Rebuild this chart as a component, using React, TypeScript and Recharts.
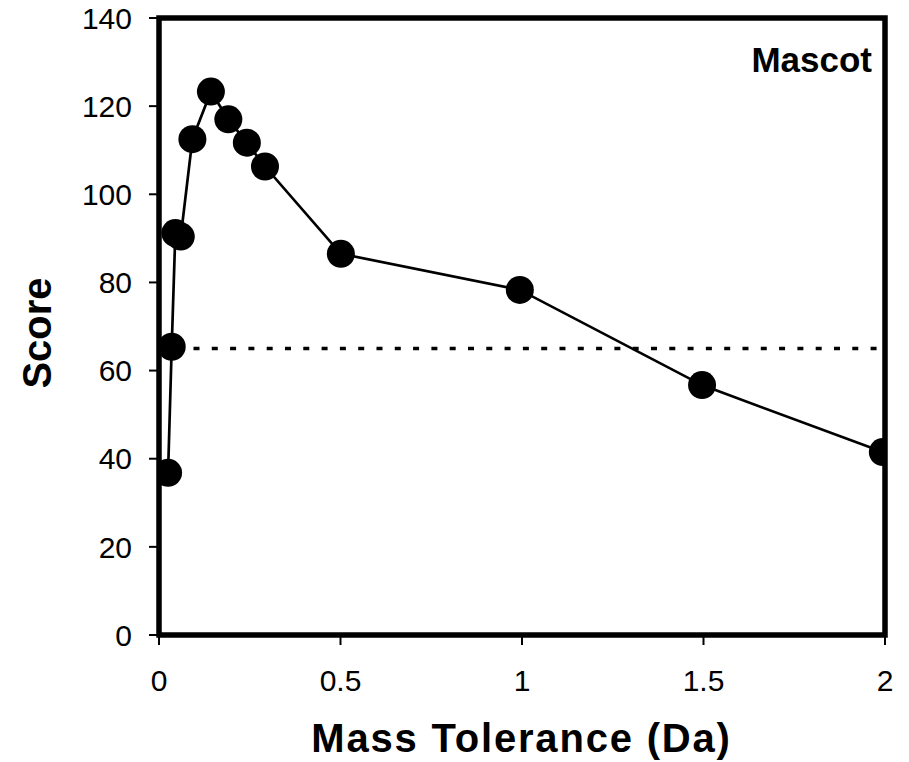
import React from "react";
import {
  ComposedChart,
  Line,
  XAxis,
  YAxis,
  ReferenceArea,
  ReferenceLine,
  Label,
} from "recharts";

const tolerance = [0.025, 0.035, 0.045, 0.06, 0.092, 0.143, 0.191, 0.242, 0.292, 0.501, 0.994, 1.496, 1.994];
const score = [36.8, 65.4, 91.2, 90.4, 112.5, 123.3, 117.0, 111.7, 106.3, 86.5, 78.3, 56.7, 41.5];
const xTicks = [0, 0.5, 1, 1.5, 2];
const yTicks = [0, 20, 40, 60, 80, 100, 120, 140];
const thresholdScore = 65;
const thresholdRange = [0.095, 2];
const xTitle = "Mass Tolerance (Da)";
const yTitle = "Score";
const panelTitle = "Mascot";

const data = tolerance.map((t, i) => ({ tol: t, score: score[i] }));

const FONT = "'Liberation Sans', Arial, sans-serif";

const renderTitles = () => (
  <g>
    <text
      x={521.5}
      y={751.7}
      textAnchor="middle"
      fontFamily={FONT}
      fontWeight="bold"
      fontSize={40}
      letterSpacing={1.8}
      fill="#000"
    >
      {xTitle}
    </text>
    <text
      x={36.7}
      y={333}
      textAnchor="middle"
      dominantBaseline="central"
      transform="rotate(-90 36.7 333)"
      fontFamily={FONT}
      fontWeight="bold"
      fontSize={40}
      fill="#000"
    >
      {yTitle}
    </text>
    <text
      x={872}
      y={72}
      textAnchor="end"
      fontFamily={FONT}
      fontWeight="bold"
      fontSize={35}
      fill="#000"
    >
      {panelTitle}
    </text>
  </g>
);

export default function App() {
  return (
    <div style={{ position: "absolute", left: 0, top: 0, background: "#fff" }}>
      <ComposedChart
        width={909}
        height={762}
        data={data}
        margin={{ top: 18, right: 24, bottom: 0, left: 0 }}
      >
        <XAxis
          dataKey="tol"
          type="number"
          domain={[0, 2]}
          ticks={xTicks}
          allowDataOverflow
          height={127}
          axisLine={false}
          tickLine={{ stroke: "#000", strokeWidth: 2 }}
          tickSize={10}
          tickMargin={25}
          tick={{ fill: "#000", fontSize: 30, fontFamily: FONT }}
        >
          <Label content={renderTitles} />
        </XAxis>
        <YAxis
          type="number"
          domain={[0, 140]}
          ticks={yTicks}
          width={159}
          axisLine={false}
          tickLine={{ stroke: "#000", strokeWidth: 2 }}
          tickSize={10}
          tickMargin={17}
          tick={{ fill: "#000", fontSize: 30, fontFamily: FONT }}
        />
        <ReferenceArea
          x1={0}
          x2={2}
          y1={0}
          y2={140}
          fill="none"
          fillOpacity={0}
          stroke="#000"
          strokeWidth={5.5}
          strokeOpacity={1}
        />
        <ReferenceLine
          segment={[
            { x: thresholdRange[0], y: thresholdScore },
            { x: thresholdRange[1], y: thresholdScore },
          ]}
          stroke="#000"
          strokeWidth={3.5}
          strokeDasharray="6 12.3"
        />
        <Line
          dataKey="score"
          stroke="#000"
          strokeWidth={2.7}
          dot={{ r: 14, fill: "#000", stroke: "#000", strokeWidth: 0 }}
          activeDot={false}
          isAnimationActive={false}
        />
      </ComposedChart>
    </div>
  );
}
